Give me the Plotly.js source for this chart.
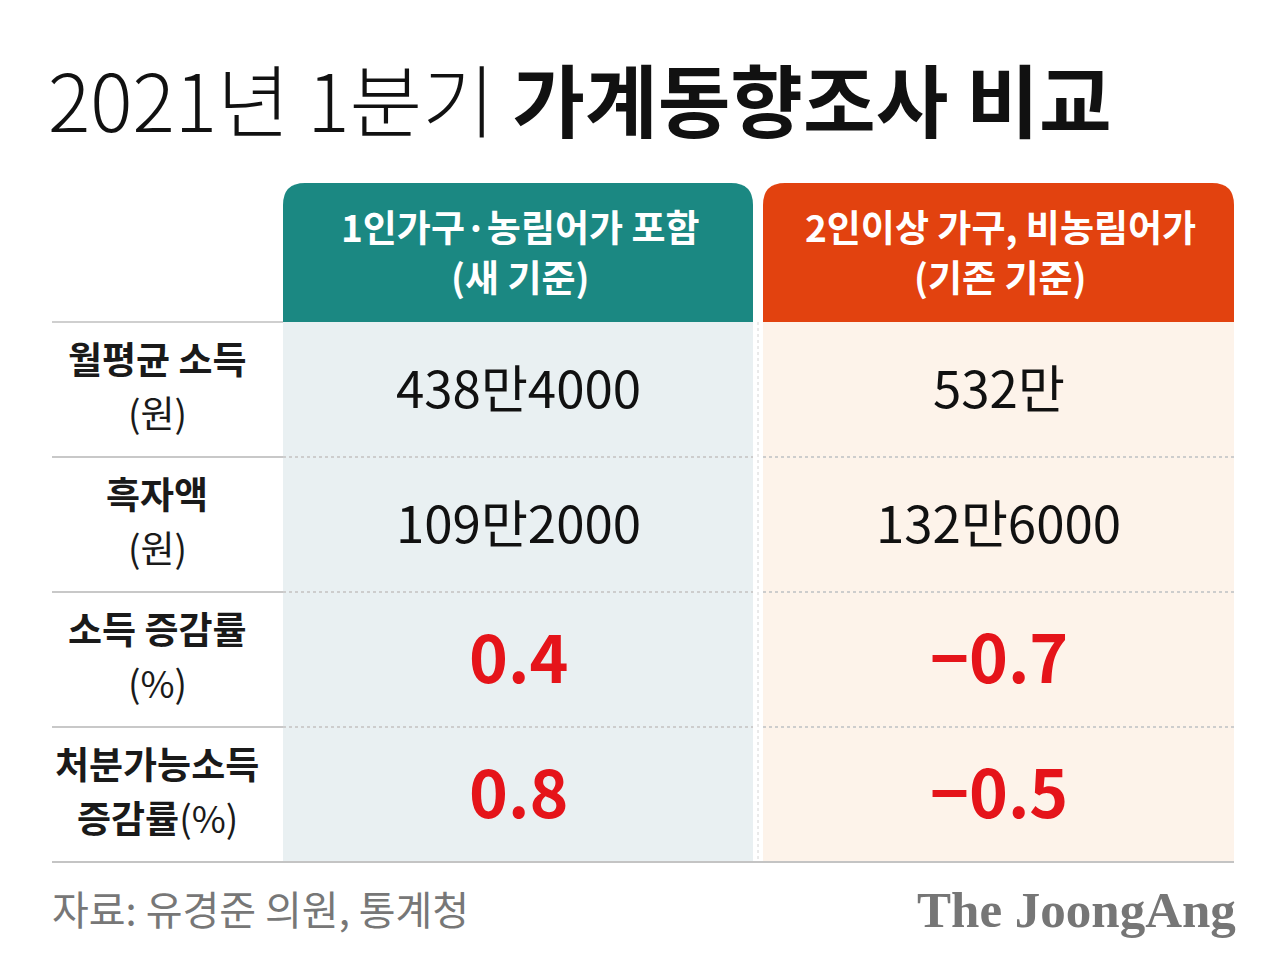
<!DOCTYPE html>
<html><head><meta charset="utf-8">
<script src="https://cdn.plot.ly/plotly-3.0.1.min.js"></script>
<style>html,body{margin:0;padding:0;background:#fff}#chart{width:1280px;height:976px}</style>
</head><body><div id="chart"></div>
<script>
// ---- data ----
const titleLight = "2021년 1분기";
const titleBold = "가계동향조사 비교";
const colHeaderLine1 = ["1인가구·농림어가 포함", "2인이상 가구, 비농림어가"];
const colHeaderLine2 = ["(새 기준)", "(기존 기준)"];
const rowLabels = ["월평균 소득", "흑자액", "소득 증감률", "처분가능소득"];
const rowLabelsCont = ["", "", "", "증감률"];
const rowUnits = ["(원)", "(원)", "(%)", "(%)"];
const newBasis = ["438만4000", "109만2000", "0.4", "0.8"];
const oldBasis = ["532만", "132만6000", "−0.7", "−0.5"];
const highlightRows = [false, false, true, true];
const sourceText = "자료: 유경준 의원, 통계청";
const brandText = "The JoongAng";

// ---- layout constants (positions / styles) ----
const FONT = "Noto Sans CJK KR, Noto Sans, sans-serif";
const labelX = [52, 283];
const colX = [[283, 753], [763, 1234]];
const headTop = 183, headBot = 322;
const rowTop = 322, rowH = 135;
const headColors = ["#1b8882", "#e2420f"];
const bodyColors = ["#e9f0f2", "#fdf3ea"];
const R = 22;

const shapes = [];
const annotations = [];
const nRows = rowLabels.length;
const bodyBot = rowTop + nRows * rowH;

colX.forEach(([x0, x1], i) => {
  shapes.push({type: 'rect', xref: 'x', yref: 'y', x0, x1, y0: headBot, y1: bodyBot,
    fillcolor: bodyColors[i], line: {width: 0}, layer: 'below'});
  const p = `M ${x0} ${headBot} L ${x0} ${headTop + R} Q ${x0} ${headTop} ${x0 + R} ${headTop} ` +
            `L ${x1 - R} ${headTop} Q ${x1} ${headTop} ${x1} ${headTop + R} L ${x1} ${headBot} Z`;
  shapes.push({type: 'path', xref: 'x', yref: 'y', path: p, fillcolor: headColors[i], line: {width: 0}, layer: 'below'});
  const cx = (x0 + x1) / 2 + 2;
  annotations.push({xref: 'x', yref: 'y', x: cx, y: 226, text: '<b>' + colHeaderLine1[i] + '</b>',
    showarrow: false, font: {family: FONT, size: 37, color: '#ffffff'}, yanchor: 'middle', xanchor: 'center'});
  annotations.push({xref: 'x', yref: 'y', x: cx, y: 276, text: '<b>' + colHeaderLine2[i] + '</b>',
    showarrow: false, font: {family: FONT, size: 37, color: '#ffffff'}, yanchor: 'middle', xanchor: 'center'});
});

shapes.push({type: 'line', xref: 'x', yref: 'y', x0: 758, x1: 758, y0: headBot, y1: bodyBot,
  line: {color: '#d4d4d4', width: 1, dash: 'dot'}});

for (let r = 0; r <= nRows; r++) {
  const y = rowTop + r * rowH;
  if (r === 0) {
    shapes.push({type: 'line', xref: 'x', yref: 'y', x0: labelX[0], x1: labelX[1], y0: y, y1: y,
      line: {color: '#cfcfcf', width: 2}});
  } else if (r === nRows) {
    shapes.push({type: 'line', xref: 'x', yref: 'y', x0: labelX[0], x1: colX[1][1], y0: y, y1: y,
      line: {color: '#c4c4c4', width: 2}});
  } else {
    shapes.push({type: 'line', xref: 'x', yref: 'y', x0: labelX[0], x1: labelX[1], y0: y, y1: y,
      line: {color: '#c8c8c8', width: 2}});
    colX.forEach(([x0, x1]) => shapes.push({type: 'line', xref: 'x', yref: 'y', x0, x1, y0: y, y1: y,
      line: {color: '#cdcdcd', width: 2, dash: 'dot'}}));
  }
}

rowLabels.forEach((lab, r) => {
  const yc = rowTop + r * rowH + rowH / 2;
  const lx = 157;
  annotations.push({xref: 'x', yref: 'y', x: lx, y: yc - 32, text: '<b>' + lab + '</b>', showarrow: false,
    font: {family: FONT, size: 37, color: '#1a1a1a'}, xanchor: 'center', yanchor: 'middle'});
  const second = (rowLabelsCont[r] ? '<b>' + rowLabelsCont[r] + '</b>' : '') + rowUnits[r];
  annotations.push({xref: 'x', yref: 'y', x: lx, y: yc + 22, text: second, showarrow: false,
    font: {family: FONT, size: 37, color: '#1a1a1a'}, xanchor: 'center', yanchor: 'middle'});
  [newBasis[r], oldBasis[r]].forEach((v, i) => {
    const cx = (colX[i][0] + colX[i][1]) / 2;
    const hi = highlightRows[r];
    annotations.push({xref: 'x', yref: 'y', x: cx, y: hi ? yc - 6 : yc - 4, showarrow: false,
      text: hi ? '<b>' + v + '</b>' : v,
      font: {family: FONT, size: hi ? 66 : 51, color: hi ? '#e5141a' : '#111111'},
      xanchor: 'center', yanchor: 'middle'});
  });
});

annotations.push({xref: 'x', yref: 'y', x: 46, y: 97, xanchor: 'left', yanchor: 'middle', showarrow: false,
  text: titleLight + ' <b>' + titleBold + '</b>',
  font: {family: FONT, size: 79, color: '#111111', weight: 300}});

annotations.push({xref: 'x', yref: 'y', x: 50, y: 908, xanchor: 'left', yanchor: 'middle', showarrow: false,
  text: sourceText, font: {family: FONT, size: 40, color: '#777777'}});
annotations.push({xref: 'x', yref: 'y', x: 1238, y: 910, xanchor: 'right', yanchor: 'middle', showarrow: false,
  text: '<b>' + brandText + '</b>', font: {family: 'Liberation Serif, DejaVu Serif, serif', size: 51, color: '#767676'}});

const layout = {
  width: 1280, height: 976,
  margin: {l: 0, r: 0, t: 0, b: 0},
  paper_bgcolor: '#ffffff', plot_bgcolor: '#ffffff',
  xaxis: {range: [0, 1280], visible: false, fixedrange: true},
  yaxis: {range: [976, 0], visible: false, fixedrange: true},
  shapes, annotations, showlegend: false
};
Plotly.newPlot('chart', [{x: [], y: [], type: 'scatter', hoverinfo: 'skip'}], layout, {displayModeBar: false, staticPlot: true});
</script></body></html>
